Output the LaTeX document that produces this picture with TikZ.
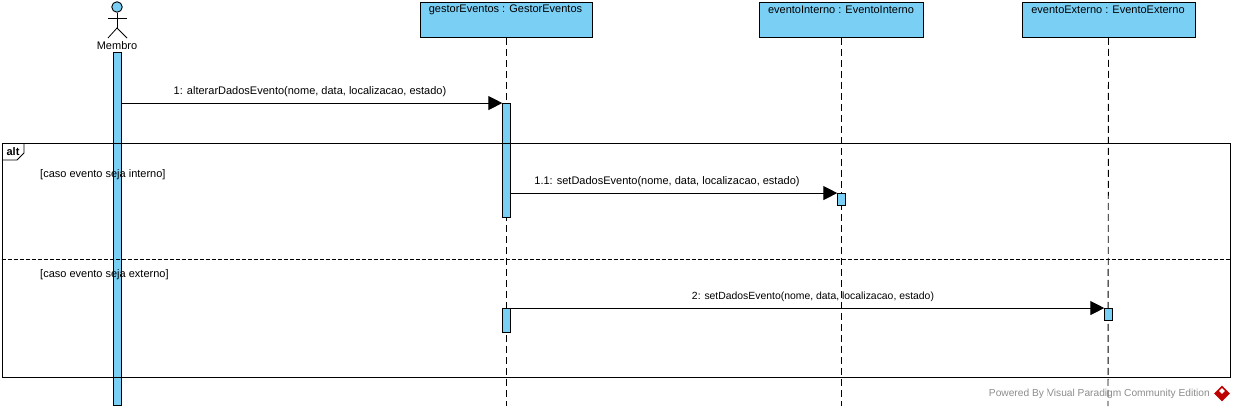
\documentclass[tikz,border=0pt]{standalone}
\usepackage{fontspec}
\setmainfont{Liberation Sans}
\usetikzlibrary{arrows.meta,shapes.geometric}
\definecolor{vpblue}{RGB}{122,207,245}
\tikzset{
  lbl/.style={inner sep=0pt,font=\fontsize{11}{13}\selectfont},
  headbox/.style={draw=black,fill=vpblue,line width=0.9pt,inner sep=0pt,minimum height=35pt},
  headtxt/.style={inner sep=0pt,font=\fontsize{11}{13}\selectfont},
  actbar/.style={draw=black,fill=vpblue,line width=0.9pt,inner sep=0pt,minimum width=8.5pt},
  msg/.style={line width=0.9pt,-{Triangle[length=14pt,width=14pt]},shorten >=-0.5pt},
  life/.style={line width=0.9pt,dash pattern=on 7pt off 4pt},
}
\begin{document}
\begin{tikzpicture}
    [x=1pt,y=-1pt,line cap=butt,line join=miter]
\useasboundingbox (0,0) rectangle (1234,410);
%headers
\node[headbox,minimum width=172pt] (gestor) at (506,20) {};
\node[headbox,minimum width=164pt] (interno) at (841,20) {};
\node[headbox,minimum width=173pt] (externo) at (1108.5,20) {};
\node[headtxt] (gestorTxt) at (505.5,10) {gestorEventos : GestorEventos};
\node[headtxt] (internoTxt) at (841,10) {eventoInterno : EventoInterno};
\node[headtxt] (externoTxt) at (1108,10) {eventoExterno : EventoExterno};
%free ends of the lifelines
\coordinate (gestorEnd) at (506,406);
\coordinate (internoEnd) at (841,406);
\coordinate (externoEnd) at (1108,406);
%lifelines
\draw[life] (gestor.south) -- (gestorEnd);
\draw[life] (interno.south) -- (internoEnd);
\draw[life] (externo.south) -- (externoEnd);
%actor
\node[draw=black,fill=vpblue,circle,line width=0.9pt,inner sep=0pt,minimum size=10.5pt] (head) at (117,7) {};
\coordinate (hip) at (117,28);
\coordinate (armL) at (108,18);
\coordinate (armR) at (127,18);
\coordinate (footL) at (108,38);
\coordinate (footR) at (127,38);
\draw[line width=0.8pt] (head.south) -- (hip);
\draw[line width=0.8pt] (armL) -- (armR);
\draw[line width=0.8pt] (footL) -- (hip) -- (footR);
\node[lbl] (membro) at (117,45.5) {Membro};
%bars
\node[actbar,minimum height=353pt] (membroBar) at (117.5,228.5) {};
\node[actbar,minimum height=114pt] (gestorBarA) at (506.5,160.5) {};
\node[actbar,minimum height=24pt] (gestorBarB) at (506.5,320.5) {};
\node[actbar,minimum height=12pt] (internoBar) at (841.5,199.5) {};
\node[actbar,minimum height=12pt] (externoBar) at (1108.5,314.5) {};
%frame
\node[draw=black,line width=0.9pt,inner sep=0pt,minimum width=1228pt,minimum height=234pt] (frame) at (616,260) {};
\coordinate (tabA) at (24,143);
\coordinate (tabB) at (24,153);
\coordinate (tabC) at (17,160);
\coordinate (tabD) at (2,160);
\draw[line width=0.9pt] (tabA) -- (tabB) -- (tabC) -- (tabD);
\node[lbl,font=\fontsize{11}{13}\selectfont\bfseries] (alt) at (13,151.5) {alt};
\draw[line width=0.9pt,dashed,dash pattern=on 4pt off 2pt] (frame.west |- 0,259.5) -- (frame.east |- 0,259.5);
\node[lbl,anchor=west] (guardA) at (40,175) {[caso evento seja interno]};
\node[lbl,anchor=west] (guardB) at (40,274.5) {[caso evento seja externo]};
%messages
\draw[msg] (membroBar.east |- gestorBarA.north) -- (gestorBarA.north west);
\node[lbl] (m1) at (310,92) {1: alterarDadosEvento(nome, data, localizacao, estado)};
\draw[msg] (gestorBarA.east |- internoBar.north) -- (internoBar.north west);
\node[lbl] (m2) at (667,181.5) {1.1: setDadosEvento(nome, data, localizacao, estado)};
\draw[msg] (gestorBarB.north east) -- (externoBar.north west);
\node[lbl,font=\fontsize{10.4}{13}\selectfont] (m3) at (813,297) {2: setDadosEvento(nome, data, localizacao, estado)};
%footer
\node[lbl,anchor=east,text=black!45,font=\fontsize{10.2}{13}\selectfont] (powered) at (1210,393.5) {Powered By \textcolor{black!15}{\rule{0.5pt}{8pt}}Visual Paradigm Community Edition};
\node[diamond,fill=red!75!black,inner sep=0pt,minimum size=16pt] (logo) at (1222,393.5) {};
\node[diamond,fill=white,inner sep=0pt,minimum size=6pt] (logoIn) at (1222,391) {};
\end{tikzpicture}
\end{document}
